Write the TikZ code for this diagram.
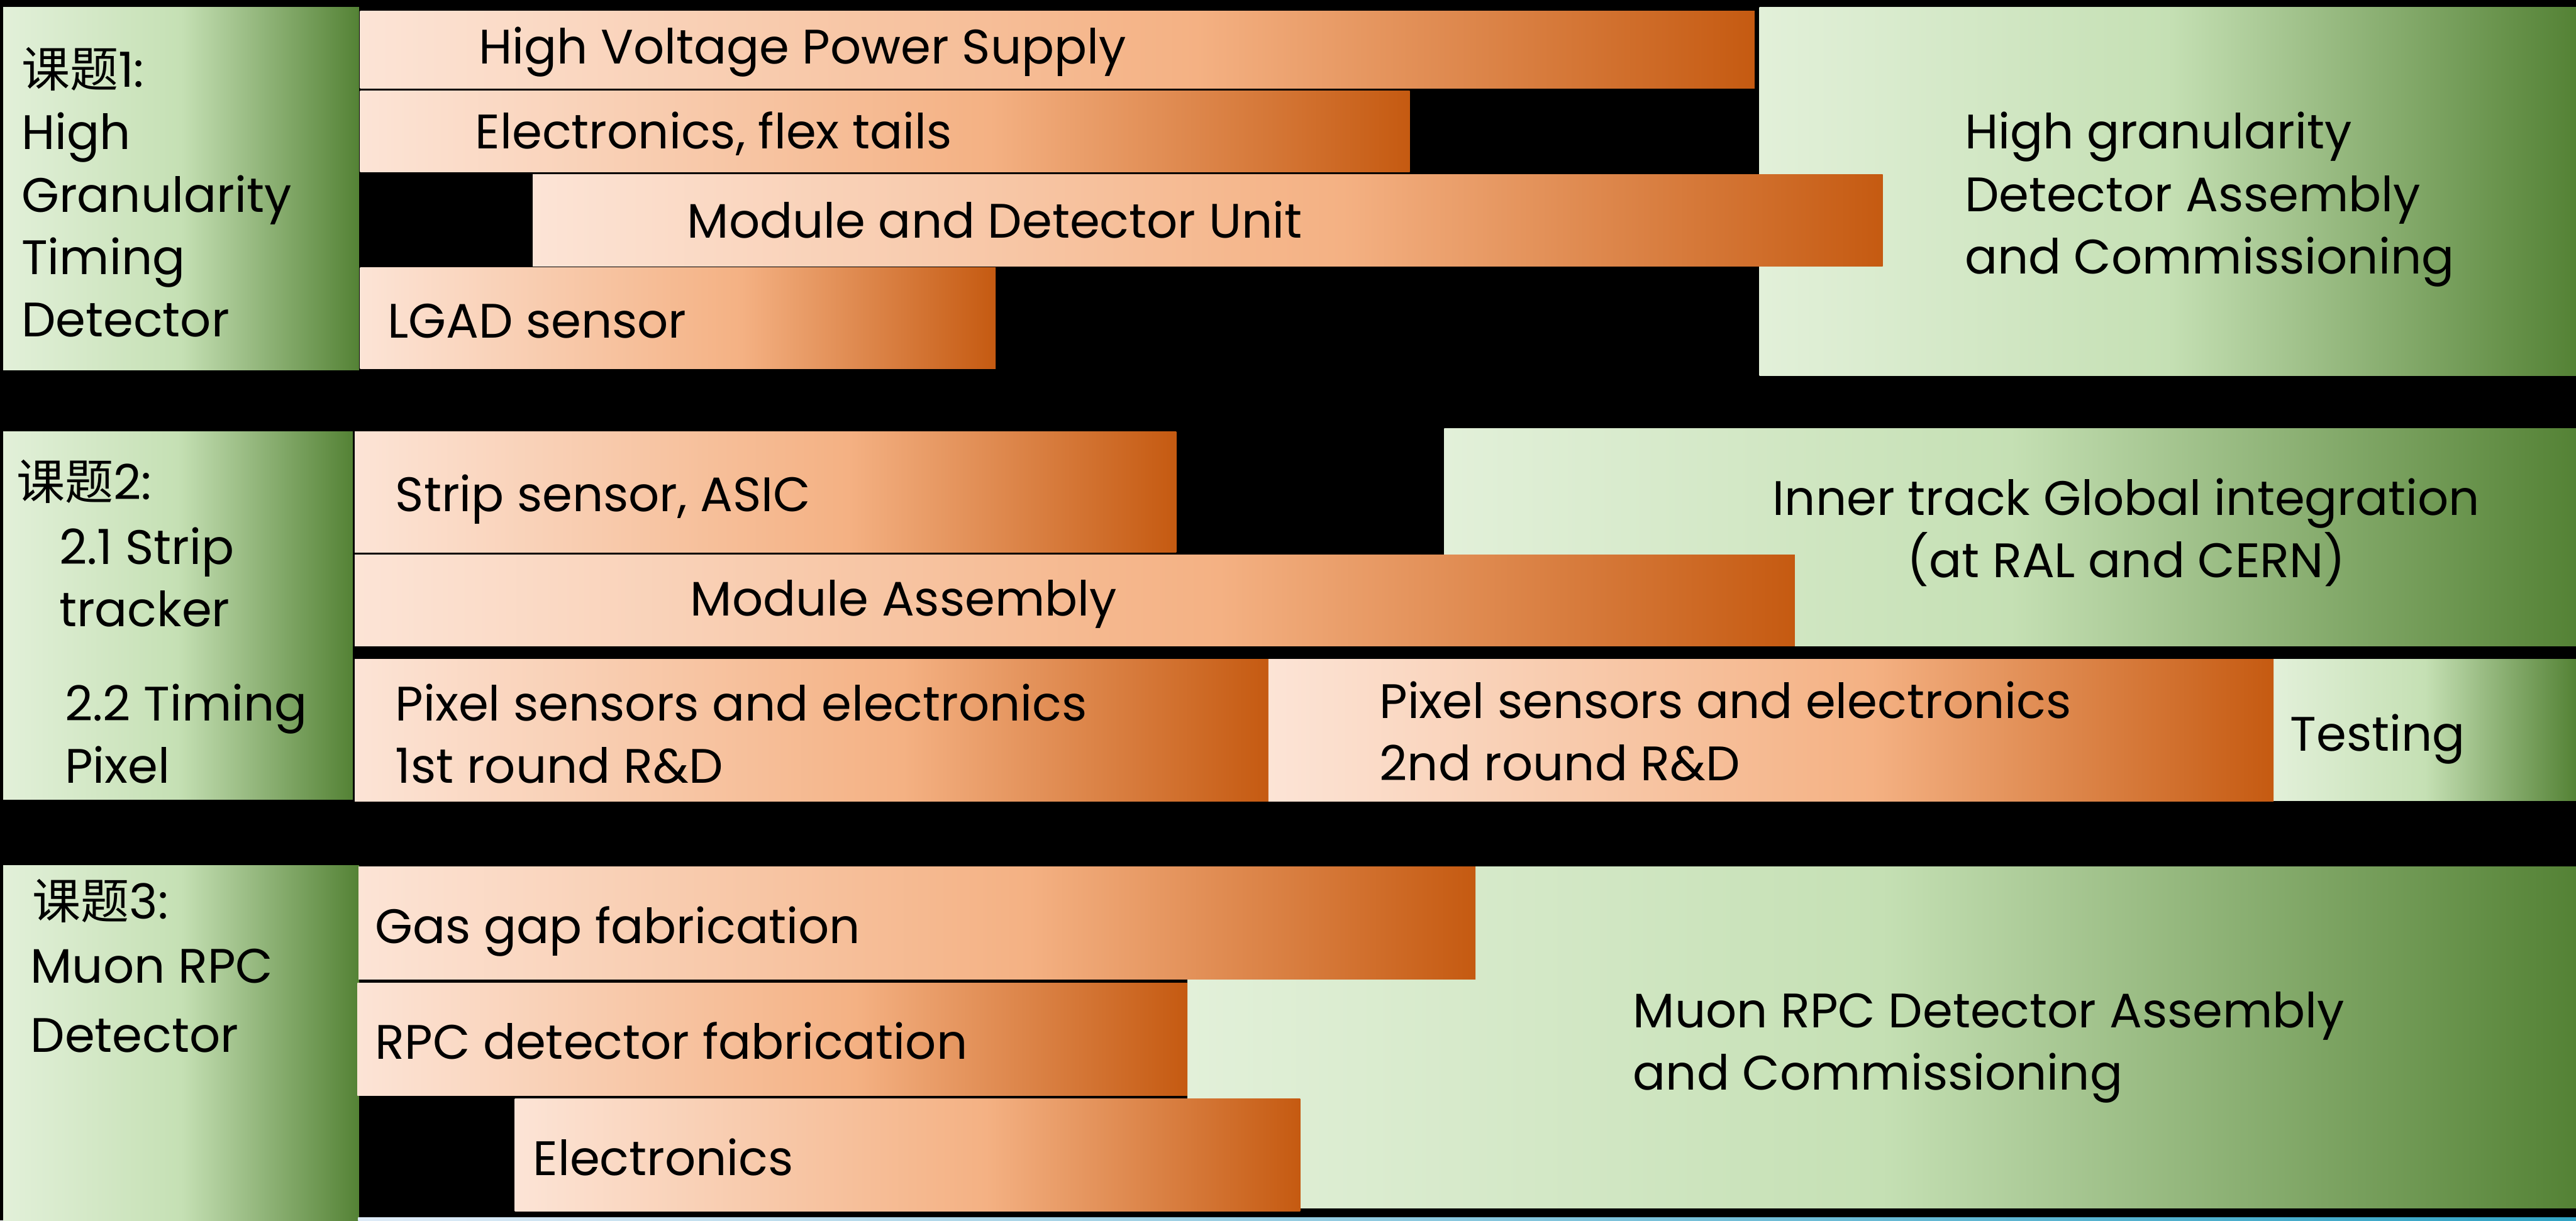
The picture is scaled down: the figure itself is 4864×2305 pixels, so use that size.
\documentclass[tikz,border=0pt]{standalone}
\usepackage{fontspec}
\setmainfont{Poppins}
\newfontfamily\cjk{Noto Sans CJK SC}
\usepackage{tikz}

\begin{document}
\begin{tikzpicture}[x=0.01cm, y=-0.01cm, every node/.style={anchor=base west, inner sep=0pt, align=left, font=\fontsize{26}{33.5}\selectfont}]
      \definecolor{orlight}{HTML}{FCE4D6} \definecolor{ormid}{HTML}{F4B183} \definecolor{ordark}{HTML}{C55A11}
      \definecolor{grlight}{HTML}{E2F0D9} \definecolor{grmid}{HTML}{C5E0B4} \definecolor{grdark}{HTML}{548235}
      \definecolor{stripl}{HTML}{DEEBF7} \definecolor{stripr}{HTML}{31A3C4}
      \pgfdeclarehorizontalshading{orangebar}{100bp}{color(0bp)=(orlight); color(25bp)=(orlight); color(55bp)=(ormid); color(75bp)=(ordark); color(100bp)=(ordark)}
      \pgfdeclarehorizontalshading{greenbar}{100bp}{color(0bp)=(grlight); color(25bp)=(grlight); color(50bp)=(grmid); color(75bp)=(grdark); color(100bp)=(grdark)}
      \useasboundingbox (0,0) rectangle (4864,2305);
      \fill[black] (0,0) rectangle (4864,2305);
      % 课题1
      \shade[shading=greenbar] (6,14) rectangle (678,699);
      \shade[shading=greenbar] (3322,14) rectangle (4864,710);
      \shade[shading=orangebar] (680,21) rectangle (3313,167);
      \shade[shading=orangebar] (680,171) rectangle (2662,325);
      \shade[shading=orangebar] (1006,330) rectangle (3555,503);
      \shade[shading=orangebar] (680,505) rectangle (1880,696);
      \node (topic1) at (40,636) {{\cjk 课题}1:\\High\\Granularity\\Timing\\Detector};
      \node (hvps) at (903,120) {High Voltage Power Supply};
      \node (flex) at (897,281) {Electronics, flex tails};
      \node (module1) at (1297,450) {Module and Detector Unit};
      \node (lgad) at (731,638) {LGAD sensor};
      \node (assembly1) at (3709,517) {High granularity\\Detector Assembly\\and Commissioning};
      % 课题2
      \shade[shading=greenbar] (6,815) rectangle (666,1510);
      \shade[shading=greenbar] (2727,809) rectangle (4864,1220);
      \shade[shading=greenbar] (4293,1245) rectangle (4864,1512);
      \shade[shading=orangebar] (670,815) rectangle (2221,1043);
      \shade[shading=orangebar] (670,1048) rectangle (3389,1220);
      \shade[shading=orangebar] (670,1245) rectangle (2395,1514);
      \shade[shading=orangebar] (2395,1245) rectangle (4293,1514);
      \node (topic2) at (31,943) {{\cjk 课题}2:};
      \node (strip) at (111,1183) {2.1 Strip\\tracker};
      \node (pixel) at (122,1479) {2.2 Timing\\Pixel};
      \node (sensor) at (746,966) {Strip sensor, ASIC};
      \node (module2) at (1303,1163) {Module Assembly};
      \node (round1) at (746,1479) {Pixel sensors and electronics\\1st round R\&D};
      \node (round2) at (2604,1474) {Pixel sensors and electronics\\2nd round R\&D};
      \node (testing) at (4324,1418) {Testing};
      \node[anchor=base, align=center] (global) at (4015,1091) {Inner track Global integration\\(at RAL and CERN)};
      % 课题3
      \shade[shading=greenbar] (6,1634) rectangle (678,2305);
      \shade[shading=greenbar] (2242,1637) rectangle (4864,2282);
      \shade[shading=orangebar] (677,1637) rectangle (2786,1850);
      \shade[shading=orangebar] (675,1857) rectangle (2242,2069);
      \shade[shading=orangebar] (972,2075) rectangle (2455,2288);
      \shade[left color=stripl, right color=stripr] (676,2299) rectangle (4864,2305);
      \node (topic3) at (61,1735) {{\cjk 课题}3:};
      \node (muon) at (57,1987) {Muon RPC\\[0.12cm]Detector};
      \node (gasgap) at (708,1782) {Gas gap fabrication};
      \node (rpc) at (708,2000) {RPC detector fabrication};
      \node (elec) at (1006,2220) {Electronics};
      \node (assembly3) at (3083,2059) {Muon RPC Detector Assembly\\and Commissioning};
    \end{tikzpicture}
\end{document}
